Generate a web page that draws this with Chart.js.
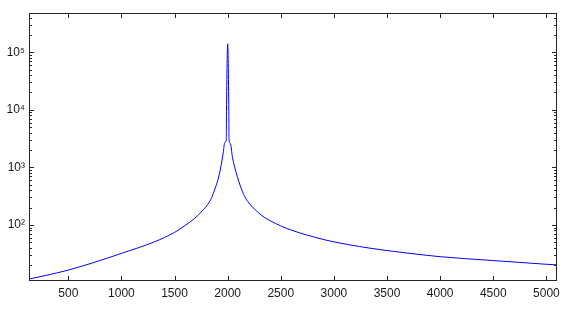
<!DOCTYPE html>
<html>
<head>
<meta charset="utf-8">
<script src="https://cdn.jsdelivr.net/npm/chart.js@4"></script>
<style>
  html, body { margin: 0; padding: 0; background: #fff; }
  #wrap { width: 573px; height: 311px; }
</style>
</head>
<body>
<div id="wrap"><canvas id="plot"></canvas></div>
<script>
// -------------------
// Data
// -------------------
const freq = [125, 300, 500, 750, 1000, 1313, 1500, 1600, 1690, 1760, 1815, 1850, 1880, 1910, 1930, 1947, 1960, 1972, 1987,
              1989, 2000, 2011,
              2013, 2025, 2045, 2066, 2090, 2120, 2160, 2200, 2250, 2333, 2400, 2500, 2600, 2741, 2850, 2993,
              3244, 3491, 3868, 4000, 4500, 5000, 5100];
const gain = [11.4, 13.4, 16.4, 22.5, 32, 51, 74, 98, 130, 175, 230, 300, 420, 620, 900, 1340, 1900, 2700, 3000,
              9300, 140000, 9300,
              3000, 2600, 1500, 1000, 700, 470, 310, 240, 190, 140, 118, 96, 81, 67, 59, 51,
              42, 36, 29.7, 28, 24, 20.7, 20.2];
const xTicks = [500, 1000, 1500, 2000, 2500, 3000, 3500, 4000, 4500, 5000];
const xRange = [130, 5100];
const yRange = [10.6, 4.8e5];

const sup = { '0': '⁰', '1': '¹', '2': '²', '3': '³', '4': '⁴', '5': '⁵', '6': '⁶' };
const isDecade = v => Math.abs(Math.log10(v) - Math.round(Math.log10(v))) < 1e-9;

// -------------------
// Matlab-ish box with inward ticks
// -------------------
const matlabBox = {
  id: 'matlabBox',
  afterDraw(chart) {
    const { ctx, chartArea: a, scales: { x, y } } = chart;
    ctx.save();
    ctx.strokeStyle = '#262626';
    ctx.lineWidth = 1;
    ctx.beginPath();
    x.ticks.forEach(t => {
      const px = Math.round(x.getPixelForValue(t.value)) + 0.5;
      ctx.moveTo(px, a.bottom); ctx.lineTo(px, a.bottom - 5);
      ctx.moveTo(px, a.top); ctx.lineTo(px, a.top + 5);
    });
    y.ticks.forEach(t => {
      const len = isDecade(t.value) ? 5 : 3;
      const py = Math.round(y.getPixelForValue(t.value)) + 0.5;
      ctx.moveTo(a.left, py); ctx.lineTo(a.left + len, py);
      ctx.moveTo(a.right, py); ctx.lineTo(a.right - len, py);
    });
    ctx.stroke();
    ctx.strokeRect(Math.round(a.left) + 0.5, Math.round(a.top) + 0.5,
                   Math.round(a.width) - 1, Math.round(a.height) - 1);
    ctx.restore();
  }
};

const config = {
  type: 'scatter',
  data: {
    datasets: [{
      data: freq.map((f, i) => ({ x: f, y: gain[i] })),
      showLine: true,
      borderColor: '#0000ff',
      borderWidth: 1,
      pointRadius: 0,
      cubicInterpolationMode: 'monotone'
    }]
  },
  options: {
    responsive: false,
    animation: false,
    layout: { padding: { top: 13, right: 16, left: 0, bottom: 0 } },
    plugins: { legend: { display: false }, tooltip: { enabled: false } },
    scales: {
      x: {
        type: 'linear',
        min: xRange[0],
        max: xRange[1],
        afterBuildTicks: s => { s.ticks = xTicks.map(v => ({ value: v })); },
        afterFit: s => { s.height = 30; },
        grid: { display: false, drawTicks: false },
        border: { display: false },
        ticks: {
          padding: 5,
          maxRotation: 0,
          color: '#1a1a1a',
          font: { family: 'Liberation Sans', size: 12 },
          callback: v => String(v)
        }
      },
      y: {
        type: 'logarithmic',
        min: yRange[0],
        max: yRange[1],
        afterBuildTicks: s => {
          const t = [];
          for (let e = 1; e <= 5; e++)
            for (let m = 1; m <= 9; m++) {
              const v = m * Math.pow(10, e);
              if (v >= yRange[0] && v <= yRange[1]) t.push({ value: v });
            }
          s.ticks = t;
        },
        afterFit: s => { s.width = 29; },
        grid: { display: false, drawTicks: false },
        border: { display: false },
        ticks: {
          padding: 4,
          autoSkip: false,
          color: '#1a1a1a',
          font: { family: 'Liberation Sans', size: 12 },
          callback: v => isDecade(v) ? '10' + sup[String(Math.round(Math.log10(v)))] : ''
        }
      }
    }
  },
  plugins: [matlabBox]
};

const cv = document.getElementById('plot');
cv.width = 573; cv.height = 311;
new Chart(cv, config);
</script>
</body>
</html>
